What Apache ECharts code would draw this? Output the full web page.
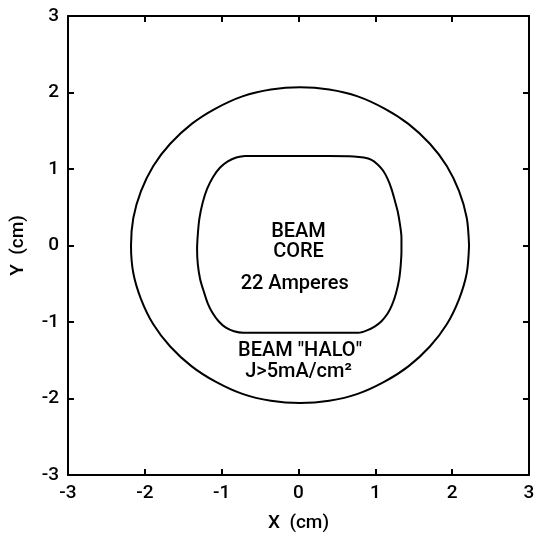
<!DOCTYPE html>
<html>
<head>
<meta charset="utf-8">
<script src="https://cdn.jsdelivr.net/npm/echarts@6/dist/echarts.min.js"></script>
<style>
html,body{margin:0;padding:0;background:#fff;}
#c{width:534px;height:533px;}
</style>
</head>
<body>
<div id="c"></div>
<script>
// Axis ticks
const xTicks = [-3, -2, -1, 0, 1, 2, 3];
const yTicks = [-3, -2, -1, 0, 1, 2, 3];

// Outer "halo" contour (x, y in cm)
const haloX = [2.22, 2.19, 2.09, 1.93, 1.71, 1.43, 1.12, 0.77, 0.40, 0.02, -0.36, -0.73, -1.08, -1.39, -1.67, -1.89, -2.05, -2.15, -2.18, -2.15, -2.05, -1.89, -1.67, -1.39, -1.08, -0.73, -0.36, 0.02, 0.40, 0.77, 1.12, 1.43, 1.71, 1.93, 2.09, 2.19, 2.22];
const haloY = [0.00, 0.36, 0.71, 1.04, 1.33, 1.59, 1.79, 1.95, 2.04, 2.07, 2.04, 1.95, 1.79, 1.59, 1.33, 1.04, 0.71, 0.36, 0.00, -0.36, -0.70, -1.03, -1.32, -1.58, -1.78, -1.94, -2.03, -2.06, -2.03, -1.94, -1.78, -1.58, -1.32, -1.03, -0.70, -0.36, 0.00];

// Inner "core" contour (x, y in cm)
const coreX = [-0.70, -0.35, 0.00, 0.40, 0.72, 0.85, 0.95, 1.03, 1.10, 1.16, 1.21, 1.25, 1.29, 1.32, 1.34, 1.34, 1.33, 1.31, 1.27, 1.22, 1.16, 1.08, 0.99, 0.89, 0.78, 0.40, 0.00, -0.40, -0.72, -0.84, -0.95, -1.04, -1.12, -1.18, -1.23, -1.28, -1.31, -1.32, -1.31, -1.29, -1.25, -1.19, -1.11, -1.02, -0.92, -0.81, -0.70];
const coreY = [1.17, 1.17, 1.17, 1.17, 1.165, 1.15, 1.12, 1.06, 0.98, 0.87, 0.74, 0.60, 0.45, 0.28, 0.10, -0.08, -0.26, -0.44, -0.62, -0.77, -0.89, -0.99, -1.06, -1.11, -1.14, -1.14, -1.14, -1.14, -1.14, -1.12, -1.07, -0.99, -0.88, -0.76, -0.61, -0.44, -0.25, -0.05, 0.15, 0.35, 0.55, 0.74, 0.90, 1.02, 1.10, 1.15, 1.17];

// Annotations
const noteText = ['BEAM', 'CORE', '22 Amperes', 'BEAM "HALO"', 'J>5mA/cm²'];
const noteX = [0.00, 0.00, -0.05, 0.02, 0.00];
const noteY = [0.18, -0.08, -0.50, -1.38, -1.65];

const zip = (a, b) => a.map((v, i) => [v, b[i]]);

const FONT = 'Roboto';
const axisCommon = {
  type: 'value', min: -3, max: 3, interval: 1,
  axisLine: { show: true, onZero: false, lineStyle: { color: '#000', width: 2 } },
  axisTick: { show: true, inside: true, length: 6, lineStyle: { color: '#000', width: 2 } },
  splitLine: { show: false }
};

const chart = echarts.init(document.getElementById('c'), null, { renderer: 'canvas' });
chart.setOption({
  backgroundColor: '#fff',
  animation: false,
  grid: { left: 68, right: 5, top: 16, bottom: 58, outerBoundsMode: 'none', containLabel: false },
  xAxis: [
    Object.assign({}, axisCommon, {
      position: 'bottom',
      name: 'X  (cm)', nameLocation: 'middle', nameGap: 39,
      nameTextStyle: { color: '#000', fontSize: 19, fontWeight: 500, fontFamily: FONT },
      axisLabel: { color: '#000', fontSize: 19, fontWeight: 500, fontFamily: FONT, margin: 9,
        formatter: v => xTicks.includes(v) ? String(v) : '' }
    }),
    Object.assign({}, axisCommon, { position: 'top', axisLabel: { show: false } })
  ],
  yAxis: [
    Object.assign({}, axisCommon, {
      position: 'left',
      name: 'Y  (cm)', nameLocation: 'middle', nameGap: 40, nameRotate: 90,
      nameTextStyle: { color: '#000', fontSize: 19, fontWeight: 500, fontFamily: FONT },
      axisLabel: { color: '#000', fontSize: 19, fontWeight: 500, fontFamily: FONT, margin: 9,
        formatter: v => yTicks.includes(v) ? String(v) : '' }
    }),
    Object.assign({}, axisCommon, { position: 'right', axisLabel: { show: false } })
  ],
  series: [
    {
      type: 'line', name: 'halo', data: zip(haloX, haloY),
      smooth: 0.3, showSymbol: false, symbol: 'none',
      lineStyle: { color: '#000', width: 2 }
    },
    {
      type: 'line', name: 'core', data: zip(coreX, coreY),
      smooth: 0.3, showSymbol: false, symbol: 'none',
      lineStyle: { color: '#000', width: 2 }
    },
    {
      type: 'scatter', name: 'notes', symbolSize: 0, silent: true,
      itemStyle: { opacity: 1, color: '#000' },
      data: noteText.map((t, i) => ({ value: [noteX[i], noteY[i]], name: t })),
      label: { show: true, position: 'inside', formatter: p => p.name, opacity: 1,
        color: '#000', fontSize: 20, fontWeight: 500, fontFamily: FONT }
    }
  ]
});
</script>
</body>
</html>
